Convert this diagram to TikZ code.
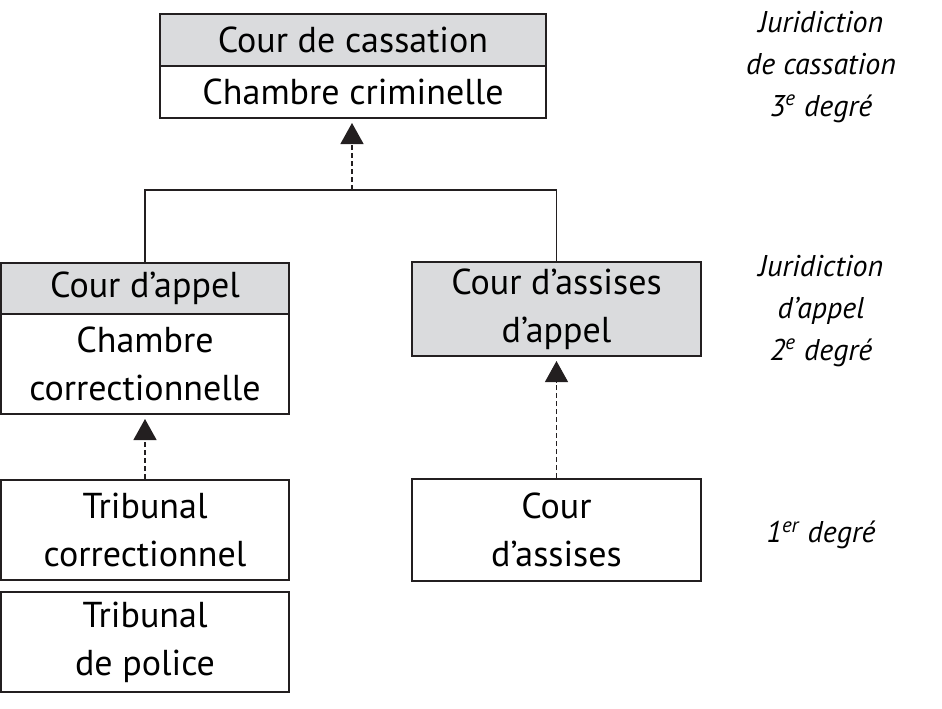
\documentclass[tikz,border=0pt]{standalone}
\usepackage{fontspec}
\setmainfont{PT Sans}
\usetikzlibrary{arrows.meta}

\definecolor{boxgray}{RGB}{218,219,221}
\definecolor{inkline}{RGB}{35,31,32}

\tikzset{
  courbox/.style={draw=inkline, line width=1pt, rectangle, inner sep=0pt,
    align=center, font=\fontsize{18}{24}\selectfont},
  upbox/.style={->, >={Triangle[width=11.5pt,length=10.5pt]}, dashed,
    dash pattern=on 2.5pt off 1.5pt, line width=0.6pt, draw=inkline, shorten >=2pt},
  degre/.style={align=center, font=\fontsize{15}{21}\selectfont\itshape}
}

\begin{document}
\begin{tikzpicture}[x=0.5pt,y=-0.5pt]

\useasboundingbox (0,0) rectangle (942,708);

% troisieme degre
\node[courbox, fill=boxgray, minimum width=193pt, minimum height=26pt] (cass) at (353,40) {Cour de cassation};
\node[courbox, minimum width=193pt, minimum height=26pt] (crim) at (353,92) {Chambre criminelle};

% deuxieme degre
\node[courbox, fill=boxgray, minimum width=144pt, minimum height=25.5pt] (appel) at (145,288) {Cour d’appel};
\node[courbox, minimum width=144pt, minimum height=50pt] (corr) at (145,364) {Chambre\\correctionnelle};
\node[courbox, fill=boxgray, minimum width=144.5pt, minimum height=47pt] (assapl) at (556.5,309) {Cour d’assises\\d’appel};

% premier degre
\node[courbox, minimum width=144pt, minimum height=50pt] (tcorr) at (145,530) {Tribunal\\correctionnel};
\node[courbox, minimum width=144pt, minimum height=50pt] (tpol) at (145,642) {Tribunal\\de police};
\node[courbox, minimum width=144.5pt, minimum height=51pt] (assises) at (556.5,530) {Cour\\d’assises};

% liaisons
\coordinate (join) at (352,190);
\draw[draw=inkline, line width=0.8pt] (appel.north) |- (join) -| (assapl.north);
\draw[upbox] (join) -- (join |- crim.south);
\draw[upbox] (tcorr.north) -- (corr.south);
\draw[upbox] (assises.north) -- (assapl.south);

% degres
\node[degre] (deg3) at (821,67) {Juridiction\\de cassation\\3\textsuperscript{e} degré};
\node[degre] (deg2) at (821,311) {Juridiction\\d’appel\\2\textsuperscript{e} degré};
\node[degre] (deg1) at (821,535) {1\textsuperscript{er} degré};

\end{tikzpicture}
\end{document}
